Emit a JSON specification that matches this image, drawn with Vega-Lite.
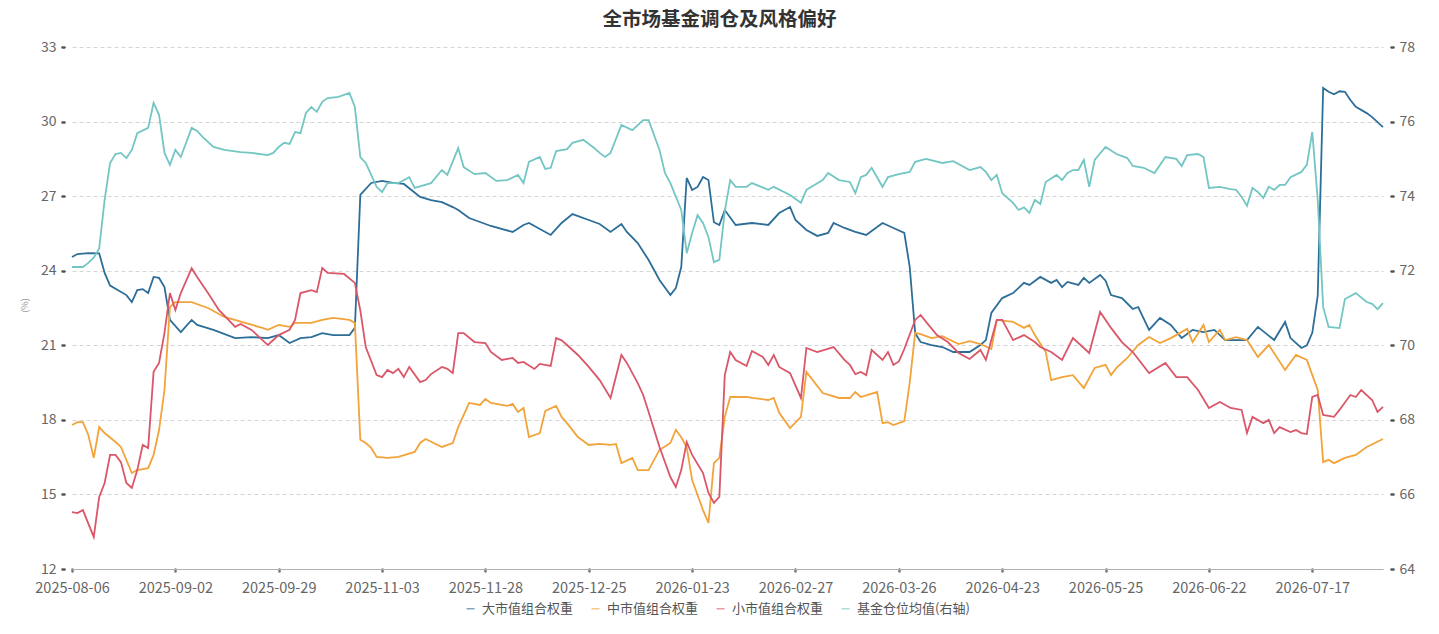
{
"$schema":"https://vega.github.io/schema/vega-lite/v6.json",
"width":1311,"height":522,
"autosize":{"type":"none"},
"padding":{"left":72,"top":47,"right":56,"bottom":65},
"config":{"font":"Noto Sans CJK SC","view":{"stroke":null}},
"title":{"text":"全市场基金调仓及风格偏好","fontSize":19.5,"fontWeight":"bold","color":"#333333","anchor":"middle","offset":10,"dx":-8},
"datasets":{
"big":[{"t":0,"v":24.55},{"t":1,"v":24.67},{"t":3,"v":24.71},{"t":5,"v":24.70},{"t":6,"v":23.91},{"t":7,"v":23.4},{"t":10,"v":23.02},{"t":11,"v":22.74},{"t":12,"v":23.22},{"t":13,"v":23.26},{"t":14,"v":23.10},{"t":15,"v":23.75},{"t":16,"v":23.71},{"t":17,"v":23.34},{"t":18,"v":22.02},{"t":20,"v":21.53},{"t":22,"v":22.02},{"t":23,"v":21.82},{"t":26,"v":21.62},{"t":30,"v":21.29},{"t":33,"v":21.33},{"t":36,"v":21.29},{"t":38,"v":21.41},{"t":40,"v":21.09},{"t":42,"v":21.29},{"t":44,"v":21.33},{"t":46,"v":21.49},{"t":48,"v":21.41},{"t":51,"v":21.41},{"t":52,"v":21.70},{"t":53,"v":27.05},{"t":55,"v":27.53},{"t":57,"v":27.61},{"t":59,"v":27.53},{"t":61,"v":27.49},{"t":64,"v":26.97},{"t":66,"v":26.84},{"t":68,"v":26.76},{"t":70,"v":26.56},{"t":71,"v":26.44},{"t":73,"v":26.12},{"t":75,"v":25.96},{"t":77,"v":25.80},{"t":81,"v":25.56},{"t":83,"v":25.84},{"t":84,"v":25.92},{"t":88,"v":25.44},{"t":90,"v":25.92},{"t":92,"v":26.28},{"t":95,"v":26.04},{"t":97,"v":25.88},{"t":99,"v":25.56},{"t":101,"v":25.88},{"t":102,"v":25.56},{"t":104,"v":25.11},{"t":106,"v":24.43},{"t":108,"v":23.63},{"t":110,"v":23.02},{"t":111,"v":23.30},{"t":112,"v":24.15},{"t":113,"v":27.73},{"t":114,"v":27.25},{"t":115,"v":27.37},{"t":116,"v":27.77},{"t":117,"v":27.65},{"t":118,"v":25.95},{"t":119,"v":25.84},{"t":120,"v":26.44},{"t":122,"v":25.84},{"t":125,"v":25.92},{"t":128,"v":25.84},{"t":130,"v":26.32},{"t":132,"v":26.56},{"t":133,"v":26.04},{"t":135,"v":25.64},{"t":137,"v":25.40},{"t":139,"v":25.52},{"t":140,"v":25.92},{"t":142,"v":25.72},{"t":144,"v":25.56},{"t":146,"v":25.44},{"t":149,"v":25.92},{"t":151,"v":25.72},{"t":153,"v":25.52},{"t":154,"v":24.15},{"t":155,"v":21.49},{"t":156,"v":21.13},{"t":158,"v":21.01},{"t":160,"v":20.93},{"t":162,"v":20.73},{"t":165,"v":20.73},{"t":167,"v":21.01},{"t":168,"v":21.21},{"t":169,"v":22.30},{"t":171,"v":22.90},{"t":173,"v":23.10},{"t":175,"v":23.51},{"t":176,"v":23.43},{"t":178,"v":23.75},{"t":180,"v":23.51},{"t":181,"v":23.63},{"t":182,"v":23.34},{"t":183,"v":23.55},{"t":185,"v":23.43},{"t":186,"v":23.71},{"t":187,"v":23.51},{"t":189,"v":23.83},{"t":190,"v":23.6},{"t":191,"v":23.02},{"t":193,"v":22.90},{"t":195,"v":22.46},{"t":196,"v":22.54},{"t":198,"v":21.62},{"t":200,"v":22.10},{"t":202,"v":21.82},{"t":204,"v":21.29},{"t":206,"v":21.62},{"t":208,"v":21.53},{"t":210,"v":21.62},{"t":212,"v":21.21},{"t":216,"v":21.21},{"t":218,"v":21.74},{"t":221,"v":21.21},{"t":223,"v":21.94},{"t":224,"v":21.29},{"t":226,"v":20.89},{"t":227,"v":21.0},{"t":228,"v":21.5},{"t":229,"v":23.0},{"t":230,"v":31.35},{"t":231,"v":31.2},{"t":232,"v":31.1},{"t":233,"v":31.22},{"t":234,"v":31.2},{"t":235,"v":30.87},{"t":236,"v":30.59},{"t":238,"v":30.34},{"t":239,"v":30.18},{"t":241,"v":29.78}],
"mid":[{"t":0,"v":17.79},{"t":1,"v":17.91},{"t":2,"v":17.91},{"t":3,"v":17.39},{"t":4,"v":16.47},{"t":5,"v":17.71},{"t":6,"v":17.47},{"t":8,"v":17.11},{"t":9,"v":16.91},{"t":11,"v":15.86},{"t":12,"v":15.98},{"t":14,"v":16.06},{"t":15,"v":16.59},{"t":16,"v":17.59},{"t":17,"v":19.2},{"t":18,"v":22.54},{"t":19,"v":22.74},{"t":22,"v":22.74},{"t":25,"v":22.50},{"t":28,"v":22.14},{"t":35,"v":21.70},{"t":36,"v":21.62},{"t":38,"v":21.82},{"t":40,"v":21.74},{"t":41,"v":21.90},{"t":44,"v":21.90},{"t":46,"v":22.02},{"t":48,"v":22.10},{"t":51,"v":22.02},{"t":52,"v":21.9},{"t":53,"v":17.2},{"t":54,"v":17.07},{"t":55,"v":16.87},{"t":56,"v":16.51},{"t":58,"v":16.47},{"t":60,"v":16.51},{"t":63,"v":16.71},{"t":64,"v":17.07},{"t":65,"v":17.23},{"t":68,"v":16.91},{"t":70,"v":17.07},{"t":71,"v":17.71},{"t":73,"v":18.68},{"t":75,"v":18.60},{"t":76,"v":18.84},{"t":77,"v":18.68},{"t":80,"v":18.56},{"t":81,"v":18.64},{"t":82,"v":18.32},{"t":83,"v":18.48},{"t":84,"v":17.31},{"t":86,"v":17.47},{"t":87,"v":18.36},{"t":89,"v":18.56},{"t":90,"v":18.12},{"t":91,"v":17.87},{"t":93,"v":17.31},{"t":95,"v":16.99},{"t":97,"v":17.03},{"t":99,"v":16.99},{"t":100,"v":17.03},{"t":101,"v":16.26},{"t":103,"v":16.47},{"t":104,"v":15.98},{"t":106,"v":15.98},{"t":108,"v":16.79},{"t":110,"v":17.07},{"t":111,"v":17.6},{"t":112,"v":17.3},{"t":113,"v":16.9},{"t":114,"v":15.58},{"t":116,"v":14.37},{"t":117,"v":13.85},{"t":118,"v":16.26},{"t":119,"v":16.47},{"t":120,"v":18.12},{"t":121,"v":18.92},{"t":124,"v":18.92},{"t":125,"v":18.88},{"t":128,"v":18.80},{"t":129,"v":18.88},{"t":130,"v":18.28},{"t":132,"v":17.67},{"t":134,"v":18.12},{"t":135,"v":19.93},{"t":138,"v":19.08},{"t":141,"v":18.88},{"t":143,"v":18.88},{"t":144,"v":19.12},{"t":145,"v":18.92},{"t":148,"v":19.12},{"t":149,"v":17.87},{"t":150,"v":17.91},{"t":151,"v":17.79},{"t":153,"v":17.95},{"t":154,"v":19.5},{"t":155,"v":21.5},{"t":156,"v":21.45},{"t":158,"v":21.29},{"t":160,"v":21.37},{"t":163,"v":21.05},{"t":165,"v":21.17},{"t":167,"v":21.05},{"t":169,"v":20.85},{"t":170,"v":22.02},{"t":173,"v":21.94},{"t":175,"v":21.70},{"t":176,"v":21.82},{"t":177,"v":21.41},{"t":179,"v":20.73},{"t":180,"v":19.60},{"t":182,"v":19.72},{"t":184,"v":19.80},{"t":186,"v":19.28},{"t":188,"v":20.09},{"t":190,"v":20.21},{"t":191,"v":19.80},{"t":192,"v":20.09},{"t":194,"v":20.49},{"t":196,"v":21.01},{"t":198,"v":21.33},{"t":200,"v":21.09},{"t":202,"v":21.29},{"t":205,"v":21.66},{"t":206,"v":21.13},{"t":208,"v":21.82},{"t":209,"v":21.13},{"t":211,"v":21.62},{"t":212,"v":21.21},{"t":214,"v":21.33},{"t":216,"v":21.21},{"t":218,"v":20.53},{"t":220,"v":21.01},{"t":223,"v":20.01},{"t":225,"v":20.61},{"t":227,"v":20.41},{"t":229,"v":19.20},{"t":230,"v":16.30},{"t":231,"v":16.39},{"t":232,"v":16.26},{"t":234,"v":16.47},{"t":236,"v":16.59},{"t":238,"v":16.91},{"t":241,"v":17.23}],
"small":[{"t":0,"v":14.29},{"t":1,"v":14.25},{"t":2,"v":14.37},{"t":4,"v":13.29},{"t":5,"v":14.90},{"t":6,"v":15.46},{"t":7,"v":16.59},{"t":8,"v":16.59},{"t":9,"v":16.30},{"t":10,"v":15.46},{"t":11,"v":15.26},{"t":12,"v":15.98},{"t":13,"v":16.99},{"t":14,"v":16.87},{"t":15,"v":19.93},{"t":16,"v":20.29},{"t":17,"v":21.5},{"t":18,"v":23.1},{"t":19,"v":22.42},{"t":20,"v":23.1},{"t":22,"v":24.1},{"t":23,"v":23.75},{"t":25,"v":23.10},{"t":27,"v":22.42},{"t":30,"v":21.74},{"t":31,"v":21.86},{"t":33,"v":21.62},{"t":36,"v":21.01},{"t":38,"v":21.41},{"t":40,"v":21.62},{"t":41,"v":22.02},{"t":42,"v":23.10},{"t":44,"v":23.22},{"t":45,"v":23.14},{"t":46,"v":24.11},{"t":47,"v":23.91},{"t":50,"v":23.87},{"t":52,"v":23.51},{"t":53,"v":22.4},{"t":54,"v":20.93},{"t":56,"v":19.80},{"t":57,"v":19.72},{"t":58,"v":20.01},{"t":59,"v":19.88},{"t":60,"v":20.05},{"t":61,"v":19.72},{"t":62,"v":20.13},{"t":64,"v":19.52},{"t":65,"v":19.60},{"t":66,"v":19.84},{"t":68,"v":20.13},{"t":69,"v":20.05},{"t":70,"v":19.88},{"t":71,"v":21.49},{"t":72,"v":21.49},{"t":74,"v":21.13},{"t":76,"v":21.09},{"t":77,"v":20.73},{"t":79,"v":20.41},{"t":81,"v":20.49},{"t":82,"v":20.29},{"t":83,"v":20.33},{"t":85,"v":20.05},{"t":86,"v":20.25},{"t":88,"v":20.17},{"t":89,"v":21.29},{"t":90,"v":21.2},{"t":91,"v":21.01},{"t":93,"v":20.61},{"t":95,"v":20.13},{"t":97,"v":19.60},{"t":99,"v":18.88},{"t":101,"v":20.61},{"t":102,"v":20.29},{"t":104,"v":19.48},{"t":105,"v":19.00},{"t":106,"v":18.32},{"t":108,"v":16.91},{"t":110,"v":15.70},{"t":111,"v":15.30},{"t":112,"v":15.98},{"t":113,"v":17.11},{"t":114,"v":16.59},{"t":116,"v":15.86},{"t":117,"v":15.06},{"t":118,"v":14.66},{"t":119,"v":14.90},{"t":120,"v":19.80},{"t":121,"v":20.73},{"t":122,"v":20.41},{"t":124,"v":20.17},{"t":125,"v":20.77},{"t":127,"v":20.53},{"t":128,"v":20.21},{"t":129,"v":20.61},{"t":130,"v":20.13},{"t":132,"v":19.88},{"t":134,"v":18.88},{"t":135,"v":20.89},{"t":137,"v":20.73},{"t":140,"v":20.93},{"t":142,"v":20.41},{"t":143,"v":20.21},{"t":144,"v":19.84},{"t":145,"v":19.93},{"t":146,"v":19.80},{"t":147,"v":20.81},{"t":149,"v":20.41},{"t":150,"v":20.73},{"t":151,"v":20.21},{"t":152,"v":20.35},{"t":153,"v":20.85},{"t":155,"v":22.02},{"t":156,"v":22.22},{"t":157,"v":21.94},{"t":159,"v":21.41},{"t":161,"v":21.13},{"t":163,"v":20.69},{"t":165,"v":20.45},{"t":167,"v":20.81},{"t":168,"v":20.41},{"t":170,"v":22.02},{"t":171,"v":22.02},{"t":173,"v":21.21},{"t":175,"v":21.41},{"t":177,"v":21.13},{"t":178,"v":20.93},{"t":180,"v":20.73},{"t":182,"v":20.41},{"t":184,"v":21.29},{"t":187,"v":20.69},{"t":189,"v":22.34},{"t":191,"v":21.70},{"t":193,"v":21.13},{"t":195,"v":20.73},{"t":198,"v":19.88},{"t":201,"v":20.29},{"t":203,"v":19.72},{"t":205,"v":19.72},{"t":207,"v":19.20},{"t":209,"v":18.48},{"t":211,"v":18.72},{"t":213,"v":18.48},{"t":215,"v":18.40},{"t":216,"v":17.47},{"t":217,"v":18.12},{"t":219,"v":17.87},{"t":220,"v":18.00},{"t":221,"v":17.47},{"t":222,"v":17.71},{"t":224,"v":17.51},{"t":225,"v":17.59},{"t":226,"v":17.47},{"t":227,"v":17.43},{"t":228,"v":18.92},{"t":229,"v":19.00},{"t":230,"v":18.20},{"t":232,"v":18.12},{"t":233,"v":18.40},{"t":235,"v":19.00},{"t":236,"v":18.92},{"t":237,"v":19.20},{"t":239,"v":18.80},{"t":240,"v":18.32},{"t":241,"v":18.52}],
"pos":[{"t":0,"v":72.10},{"t":2,"v":72.10},{"t":3,"v":72.21},{"t":4,"v":72.35},{"t":5,"v":72.6},{"t":6,"v":73.90},{"t":7,"v":74.89},{"t":8,"v":75.13},{"t":9,"v":75.16},{"t":10,"v":75.02},{"t":11,"v":75.24},{"t":12,"v":75.69},{"t":14,"v":75.83},{"t":15,"v":76.50},{"t":16,"v":76.18},{"t":17,"v":75.16},{"t":18,"v":74.84},{"t":19,"v":75.24},{"t":20,"v":75.05},{"t":22,"v":75.83},{"t":23,"v":75.75},{"t":24,"v":75.59},{"t":26,"v":75.32},{"t":28,"v":75.24},{"t":31,"v":75.18},{"t":33,"v":75.16},{"t":36,"v":75.10},{"t":37,"v":75.16},{"t":38,"v":75.32},{"t":39,"v":75.43},{"t":40,"v":75.40},{"t":41,"v":75.72},{"t":42,"v":75.69},{"t":43,"v":76.23},{"t":44,"v":76.39},{"t":45,"v":76.26},{"t":46,"v":76.53},{"t":47,"v":76.63},{"t":49,"v":76.66},{"t":51,"v":76.77},{"t":52,"v":76.39},{"t":53,"v":75.05},{"t":54,"v":74.89},{"t":55,"v":74.57},{"t":56,"v":74.25},{"t":57,"v":74.11},{"t":58,"v":74.35},{"t":60,"v":74.35},{"t":62,"v":74.51},{"t":63,"v":74.22},{"t":66,"v":74.35},{"t":68,"v":74.70},{"t":69,"v":74.57},{"t":71,"v":75.29},{"t":72,"v":74.78},{"t":74,"v":74.59},{"t":76,"v":74.62},{"t":78,"v":74.41},{"t":80,"v":74.43},{"t":82,"v":74.57},{"t":83,"v":74.35},{"t":84,"v":74.92},{"t":86,"v":75.05},{"t":87,"v":74.73},{"t":88,"v":74.76},{"t":89,"v":75.21},{"t":91,"v":75.26},{"t":92,"v":75.43},{"t":94,"v":75.51},{"t":96,"v":75.29},{"t":97,"v":75.16},{"t":98,"v":75.05},{"t":99,"v":75.16},{"t":101,"v":75.91},{"t":103,"v":75.77},{"t":105,"v":76.04},{"t":106,"v":76.04},{"t":108,"v":75.24},{"t":109,"v":74.62},{"t":110,"v":74.35},{"t":112,"v":73.63},{"t":113,"v":72.47},{"t":114,"v":73.01},{"t":115,"v":73.49},{"t":116,"v":73.28},{"t":117,"v":72.90},{"t":118,"v":72.23},{"t":119,"v":72.29},{"t":120,"v":73.6},{"t":121,"v":74.43},{"t":122,"v":74.25},{"t":124,"v":74.25},{"t":125,"v":74.35},{"t":128,"v":74.17},{"t":129,"v":74.25},{"t":132,"v":74.03},{"t":134,"v":73.82},{"t":135,"v":74.17},{"t":138,"v":74.43},{"t":139,"v":74.62},{"t":141,"v":74.43},{"t":143,"v":74.38},{"t":144,"v":74.08},{"t":145,"v":74.51},{"t":146,"v":74.57},{"t":147,"v":74.76},{"t":149,"v":74.25},{"t":150,"v":74.51},{"t":152,"v":74.59},{"t":154,"v":74.65},{"t":155,"v":74.92},{"t":157,"v":75.00},{"t":160,"v":74.89},{"t":162,"v":74.94},{"t":165,"v":74.70},{"t":167,"v":74.78},{"t":168,"v":74.65},{"t":169,"v":74.43},{"t":170,"v":74.57},{"t":171,"v":74.08},{"t":173,"v":73.82},{"t":174,"v":73.63},{"t":175,"v":73.70},{"t":176,"v":73.55},{"t":177,"v":73.90},{"t":178,"v":73.79},{"t":179,"v":74.38},{"t":181,"v":74.57},{"t":182,"v":74.43},{"t":183,"v":74.62},{"t":184,"v":74.70},{"t":185,"v":74.70},{"t":186,"v":74.97},{"t":187,"v":74.25},{"t":188,"v":74.97},{"t":190,"v":75.32},{"t":192,"v":75.13},{"t":194,"v":75.02},{"t":195,"v":74.81},{"t":197,"v":74.76},{"t":199,"v":74.62},{"t":201,"v":75.05},{"t":203,"v":75.00},{"t":204,"v":74.81},{"t":205,"v":75.10},{"t":207,"v":75.13},{"t":208,"v":75.05},{"t":209,"v":74.22},{"t":211,"v":74.25},{"t":213,"v":74.19},{"t":214,"v":74.17},{"t":215,"v":73.98},{"t":216,"v":73.74},{"t":217,"v":74.22},{"t":218,"v":74.11},{"t":219,"v":73.95},{"t":220,"v":74.25},{"t":221,"v":74.17},{"t":222,"v":74.30},{"t":223,"v":74.30},{"t":224,"v":74.51},{"t":226,"v":74.65},{"t":227,"v":74.84},{"t":228,"v":75.72},{"t":229,"v":73.90},{"t":230,"v":71.03},{"t":231,"v":70.49},{"t":233,"v":70.46},{"t":234,"v":71.24},{"t":236,"v":71.40},{"t":238,"v":71.16},{"t":239,"v":71.11},{"t":240,"v":70.97},{"t":241,"v":71.13}]
},
"encoding":{
"x":{"field":"t","type":"quantitative","scale":{"domain":[0,241],"nice":false,"zero":false},
"axis":{"title":null,"values":[0,19,38,57,76,95,114,133,152,171,190,209,228],
"labelExpr":"['2025-08-06','2025-09-02','2025-09-29','2025-11-03','2025-11-28','2025-12-25','2026-01-23','2026-02-27','2026-03-26','2026-04-23','2026-05-25','2026-06-22','2026-07-17'][round(datum.value/19)]",
"grid":false,"domain":true,"domainColor":"#b0b0b0","domainWidth":1,"ticks":true,"tickSize":2,"tickWidth":2.5,"tickColor":"#777777","tickCap":"round",
"labelFontSize":14.5,"labelColor":"#666666","labelPadding":10,"labelFlush":false,"labelOverlap":false}}
},
"layer":[
{"encoding":{"y":{"field":"v","type":"quantitative","scale":{"domain":[12,33],"nice":false,"zero":false},
"axis":{"orient":"left","values":[12,15,18,21,24,27,30,33],"grid":true,"gridColor":"#d4d4d4","gridDash":[4,3],"gridWidth":1,"domain":false,"ticks":true,"tickSize":2,"tickWidth":2.5,"tickColor":"#555555","tickCap":"round","offset":8,"labelPadding":6,"labelFontSize":14,"labelColor":"#666666",
"title":"(%)","titleFontSize":9,"titleFontWeight":"normal","titleColor":"#999999","titleX":-35,"titleY":258,"titleAngle":270}}},
"layer":[
{"data":{"name":"big"},"mark":{"type":"line","strokeWidth":1.8,"interpolate":"linear"},
"encoding":{"color":{"datum":"大市值组合权重","type":"nominal",
"scale":{"domain":["大市值组合权重","中市值组合权重","小市值组合权重","基金仓位均值(右轴)"],"range":["#2d6e98","#f2a33a","#da5769","#73c6c3"]},
"legend":{"orient":"none","legendX":392,"legendY":555,"direction":"horizontal","title":null,"symbolType":"stroke","symbolSize":64,"symbolStrokeWidth":1.5,"symbolOpacity":0.6,"labelFontSize":13,"labelColor":"#555555","labelOffset":5,"columnPadding":14}}}},
{"data":{"name":"mid"},"mark":{"type":"line","strokeWidth":1.8,"interpolate":"linear"},
"encoding":{"color":{"datum":"中市值组合权重","type":"nominal"}}},
{"data":{"name":"small"},"mark":{"type":"line","strokeWidth":1.8,"interpolate":"linear"},
"encoding":{"color":{"datum":"小市值组合权重","type":"nominal"}}}
]},
{"data":{"name":"pos"},"mark":{"type":"line","strokeWidth":1.8,"interpolate":"linear"},
"encoding":{"y":{"field":"v","type":"quantitative","scale":{"domain":[64,78],"nice":false,"zero":false},
"axis":{"orient":"right","values":[64,66,68,70,72,74,76,78],"grid":false,"domain":false,"ticks":true,"tickSize":2,"tickWidth":2.5,"tickColor":"#555555","tickCap":"round","offset":8,"labelPadding":6,"labelFontSize":14,"labelColor":"#666666","title":null}},
"color":{"datum":"基金仓位均值(右轴)","type":"nominal"}}}
],
"resolve":{"scale":{"y":"independent"}}
}
